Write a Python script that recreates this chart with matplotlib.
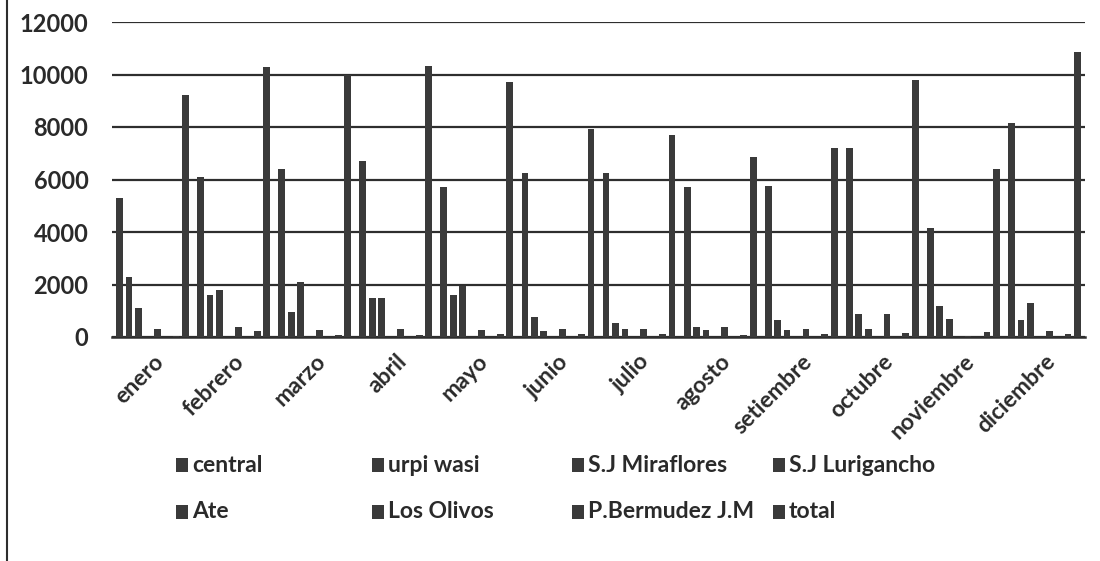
import matplotlib
matplotlib.use("Agg")
import matplotlib.pyplot as plt
import numpy as np
from matplotlib.patches import Rectangle
from matplotlib.lines import Line2D

plt.rcParams["font.family"] = ["Lato", "DejaVu Sans"]

months = ["enero", "febrero", "marzo", "abril", "mayo", "junio", "julio",
          "agosto", "setiembre", "octubre", "noviembre", "diciembre"]
series_names = ["central", "urpi wasi", "S.J Miraflores", "S.J Lurigancho",
                "Ate", "Los Olivos", "P.Bermudez J.M", "total"]

central = [5300, 6100, 6400, 6700, 5700, 6250, 6250, 5700, 5750, 7200, 4150, 8150]
urpi_wasi = [2300, 1600, 950, 1500, 1600, 750, 550, 400, 650, 880, 1200, 650]
sj_miraflores = [1100, 1800, 2100, 1500, 1950, 230, 320, 280, 280, 320, 700, 1300]
sj_lurigancho = [10, 10, 10, 10, 10, 10, 10, 10, 10, 10, 10, 10]
ate = [300, 400, 260, 320, 280, 320, 300, 370, 320, 880, 20, 230]
los_olivos = [10, 10, 10, 10, 10, 10, 10, 10, 10, 10, 10, 10]
p_bermudez = [40, 220, 60, 80, 110, 120, 100, 60, 100, 150, 190, 100]
total = [9230, 10300, 10000, 10320, 9730, 7930, 7700, 6860, 7200, 9780, 6400, 10850]

series = [central, urpi_wasi, sj_miraflores, sj_lurigancho,
          ate, los_olivos, p_bermudez, total]

BAR = "#3a3a3a"
LINE = "#2e2e2e"
TXT = "#2a2a2a"
W, H = 1100, 561


def fx(px):
    return px / W


def fy(py):
    return 1 - py / H


fig = plt.figure(figsize=(11.0, 5.61), dpi=100)
fig.patch.set_facecolor("white")
ax = fig.add_axes([fx(112), fy(337), fx(1085) - fx(112), fy(22) - fy(337)])

x = np.arange(len(months))
n = len(series)
group = 0.93
slot = group / n
for i, vals in enumerate(series):
    offs = -group / 2 + slot * (i + 0.5)
    ax.bar(x + offs, vals, width=slot * 0.72, color=BAR, zorder=3)

ax.set_xlim(-0.5, len(months) - 0.5)
ax.set_ylim(0, 12000)
ax.set_yticks(range(0, 12001, 2000))
ax.yaxis.grid(True, color=LINE, linewidth=1.6, zorder=0)
ax.set_axisbelow(True)
for s in ["top", "right", "left"]:
    ax.spines[s].set_visible(False)
ax.spines["bottom"].set_color(LINE)
ax.spines["bottom"].set_linewidth(1.8)
ax.tick_params(axis="both", length=0, colors=TXT)
ax.tick_params(axis="y", pad=17, labelsize=17)
for lab in ax.get_yticklabels():
    lab.set_fontweight("bold")

ax.set_xticks(x)
ax.set_xticklabels(months, rotation=45, ha="right", rotation_mode="anchor",
                   fontsize=16.5, fontweight="bold", color=TXT)
ax.tick_params(axis="x", pad=10)

# legend, laid out as in the original (two rows of four)
rows = [series_names[:4], series_names[4:]]
col_x = [176, 372, 572, 773]
row_y = [465, 512]
for r, names in enumerate(rows):
    for c, name in enumerate(names):
        px, py = col_x[c], row_y[r]
        fig.patches.append(Rectangle((fx(px), fy(py + 7)), fx(12), 14 / H,
                                     transform=fig.transFigure,
                                     facecolor=BAR, edgecolor="none"))
        fig.text(fx(px + 16), fy(py), name, ha="left", va="center",
                 fontsize=16.5, fontweight="bold", color=TXT)

# left border of the scanned frame
fig.lines.append(Line2D([fx(7), fx(7)], [0, 1], transform=fig.transFigure,
                        color=LINE, linewidth=1.5))

fig.savefig("out.png", dpi=100, facecolor="white")
